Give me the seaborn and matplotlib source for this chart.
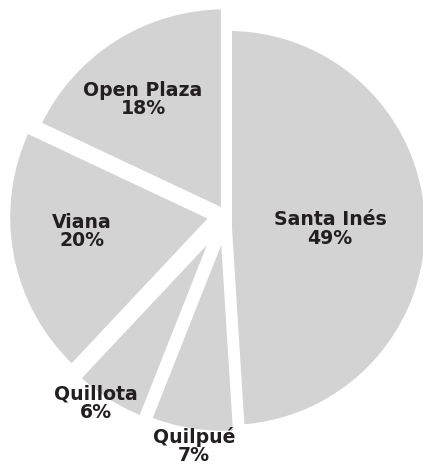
import matplotlib
matplotlib.use("Agg")
import matplotlib.pyplot as plt
import seaborn as sns
import numpy as np

# ---- data ----
categories = ["Santa Inés", "Quilpué", "Quillota", "Viana", "Open Plaza"]
shares = [49, 7, 6, 20, 18]
labels = [f"{c}\n{v}%" for c, v in zip(categories, shares)]

# ---- layout / style ----
W, H = 423, 466
DPI = 100
R = 208                      # pie radius in pixels
center = (226, H - 215)      # pie centre (pixels, y up)
explode_px = [2, 12, 14, 12, 2]
extra_shift = {0: (0, -13)}  # Santa Inés sits a little lower
radius_trim = {0: 7}         # ...and is drawn a little smaller
label_r = [0.49, 1.063, 1.032, 0.64, 0.674]
label_turn = [-2.4, 1.2, -2.4, -4.6, 3.3]
gap_px = 8
slice_color = "#d3d3d3"
text_color = "#231f20"

sns.set_theme(style="white")
plt.rcParams["font.family"] = ["DejaVu Sans"]

fig = plt.figure(figsize=(W / DPI, H / DPI), dpi=DPI)
ax = fig.add_axes([0, 0, 1, 1])

wedges, _ = ax.pie(
    shares,
    radius=R,
    center=center,
    explode=explode_px,
    startangle=90,
    counterclock=False,
    colors=[slice_color] * len(shares),
    wedgeprops=dict(edgecolor="white", linewidth=gap_px * 72 / DPI,
                    joinstyle="round"),
)

for i, (dx, dy) in extra_shift.items():
    cx, cy = wedges[i].center
    wedges[i].set_center((cx + dx, cy + dy))
for i, trim in radius_trim.items():
    wedges[i].set_radius(R - trim)

for i, w in enumerate(wedges):
    mid = np.deg2rad((w.theta1 + w.theta2) / 2 + label_turn[i])
    cx, cy = w.center
    x = cx + label_r[i] * R * np.cos(mid)
    y = cy + label_r[i] * R * np.sin(mid)
    ax.text(x, y, labels[i], ha="center", va="center", fontsize=13.6,
            fontweight="bold", color=text_color, linespacing=0.95)

ax.set_xlim(0, W)
ax.set_ylim(0, H)
ax.set_aspect("equal")
ax.axis("off")

fig.savefig("out.png", dpi=DPI)
